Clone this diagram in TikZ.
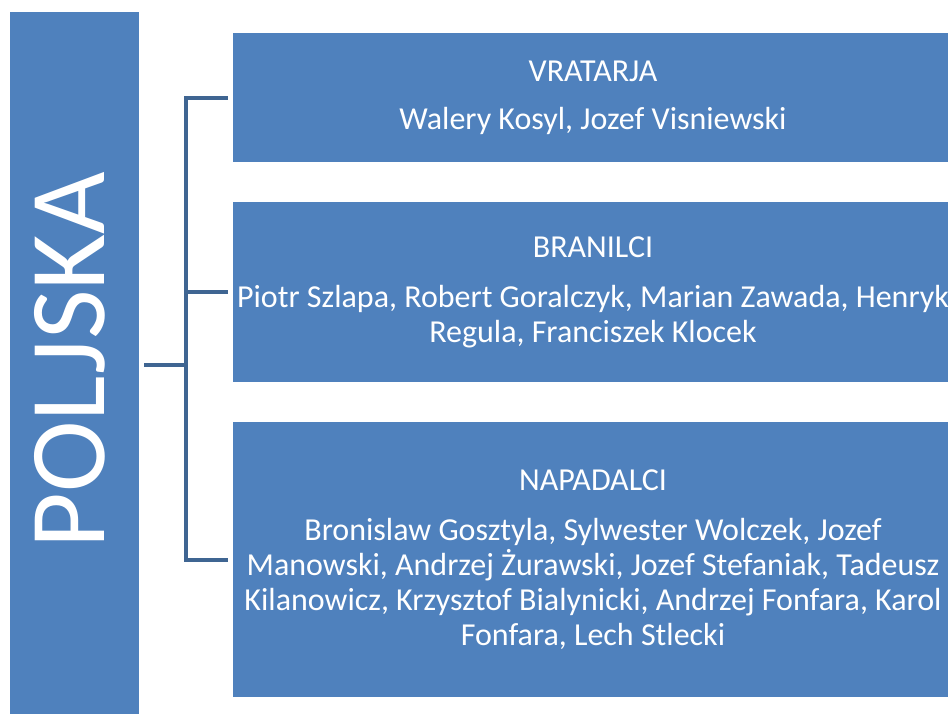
\documentclass[tikz,border=0pt]{standalone}
\usepackage{fontspec}
\setmainfont{Carlito}
\definecolor{boxblue}{HTML}{4F81BD}
\definecolor{lineblue}{HTML}{3F6592}
\begin{document}
\begin{tikzpicture}[x=1pt,y=-1pt,
  box/.style={draw=none,fill=boxblue,text=white,align=center,inner sep=0pt,
    minimum width=720pt,font=\fontsize{32}{35}\selectfont},
  conn/.style={draw=lineblue,line width=4pt}]
\useasboundingbox (0,0) rectangle (948,713);
\node[fill=boxblue,minimum width=129.5pt,minimum height=710pt,inner sep=0pt] (L) at (74.25,367) {};
\node[text=white,rotate=90,font=\fontsize{108}{110}\selectfont,inner sep=0pt] (T) at (70,360) {POLJSKA};
\node[box,minimum height=129pt] (B1) at (593,97.5) {VRATARJA\\[13pt]Walery Kosyl, Jozef Visniewski};
\node[box,minimum height=180pt] (B2) at (593,292) {BRANILCI\\[15pt]Piotr Szlapa, Robert Goralczyk, Marian Zawada, Henryk\\Regula, Franciszek Klocek};
\node[box,minimum height=275pt] (B3) at (593,559.5) {NAPADALCI\\[15pt]Bronislaw Gosztyla, Sylwester Wolczek, Jozef\\Manowski, Andrzej Żurawski, Jozef Stefaniak, Tadeusz\\Kilanowicz, Krzysztof Bialynicki, Andrzej Fonfara, Karol\\Fonfara, Lech Stlecki};
\coordinate (J) at (186,365);
\draw[conn] ([xshift=5pt]L.east |- J) -- (J);
\draw[conn] ([xshift=-5pt]B1.west) -| (J) |- ([xshift=-5pt]B3.west);
\draw[conn] (J |- B2.west) -- ([xshift=-5pt]B2.west);
\end{tikzpicture}
\end{document}
